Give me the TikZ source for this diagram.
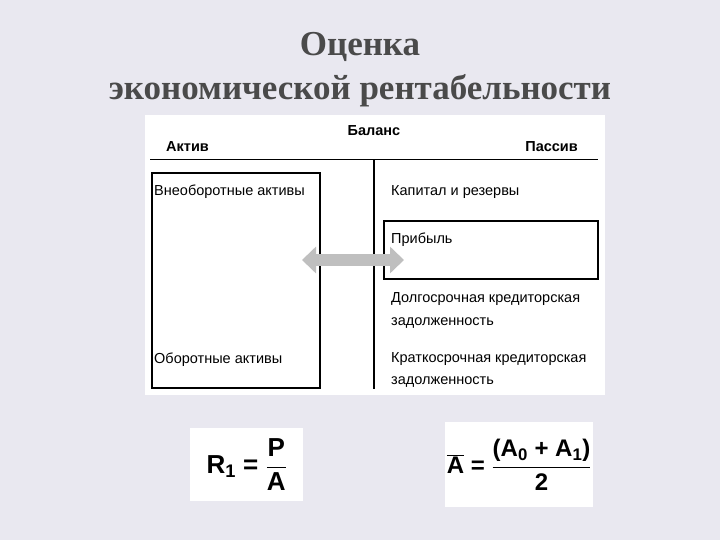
\documentclass[tikz,border=0pt]{standalone}
\usepackage{fontspec}
\setmainfont{Liberation Sans}
\newfontfamily\titlefont{Liberation Serif}
\usetikzlibrary{arrows.meta}
\definecolor{bg}{HTML}{E9E8F0}
\definecolor{ttl}{HTML}{4A4A4A}
\begin{document}
\begin{tikzpicture}[x=1pt,y=-1pt,
  txt/.style={anchor=west,font=\fontsize{14.5}{16}\selectfont,inner sep=0pt,align=left},
  hdr/.style={font=\bfseries\fontsize{14.5}{15}\selectfont,inner sep=0pt},
  frm/.style={fill=white,draw=none}]
\fill[bg] (0,0) rectangle (720,540);
\useasboundingbox (0,0) rectangle (720,540);
\node[font=\titlefont\bfseries\fontsize{35}{44}\selectfont,text=ttl,align=center] (title) at (360,70) {Оценка\\экономической рентабельности};
\node[fill=white,minimum width=460,minimum height=280,inner sep=0pt,anchor=north west] (panel) at (145,115) {};
\node[hdr] (bal) at (374,131) {Баланс};
\node[hdr,anchor=west] (akt) at (166,147) {Актив};
\node[hdr,anchor=east] (pas) at (578,147) {Пассив};
\coordinate (hl) at (150,160); \coordinate (hr) at (598,160);
\draw[line width=1pt] (hl) -- (hr);
\coordinate (vt) at (374,160); \coordinate (vb) at (374,389);
\draw[line width=1.5pt] (vt) -- (vb);
\node[draw,line width=2pt,minimum width=168,minimum height=215,anchor=north west,inner sep=0pt] (lbox) at (151,172) {};
\node[draw,line width=2pt,minimum width=214,minimum height=58,anchor=north west,inner sep=0pt] (pbox) at (383,220) {};
\node[txt] (vna) at (154,192) {Внеоборотные активы};
\node[txt] (oa) at (154,360) {Оборотные активы};
\node[txt] (kr) at (391,192) {Капитал и резервы};
\node[txt] (pr) at (391,240) {Прибыль};
\node[txt] (dk) at (391,299) {Долгосрочная кредиторская};
\node[txt] (dz) at (391,323) {задолженность};
\node[txt] (kk) at (391,359) {Краткосрочная кредиторская};
\node[txt] (kz) at (391,382) {задолженность};
\coordinate (al) at (302,260); \coordinate (ar) at (404,260);
\draw[line width=12pt,color=black!25,{Triangle[length=14pt,width=26pt]}-{Triangle[length=14pt,width=26pt]}] (al) -- (ar);
\node[frm,minimum width=113,minimum height=73,anchor=north west,inner sep=0pt] (f1) at (190,428) {};
\node[font=\bfseries\fontsize{26}{30}\selectfont] (f1t) at (f1.center) {R\textsubscript{1} = $\displaystyle\frac{\textbf{P}}{\textbf{A}}$};
\node[frm,minimum width=148,minimum height=85,anchor=north west,inner sep=0pt] (f2) at (445,422) {};
\node[font=\bfseries\fontsize{24}{28}\selectfont] (f2t) at (f2.center) {$\overline{\textbf{A}}$ = $\displaystyle\frac{\textbf{(A\textsubscript{0} + A\textsubscript{1})}}{\textbf{2}}$};
\end{tikzpicture}
\end{document}
